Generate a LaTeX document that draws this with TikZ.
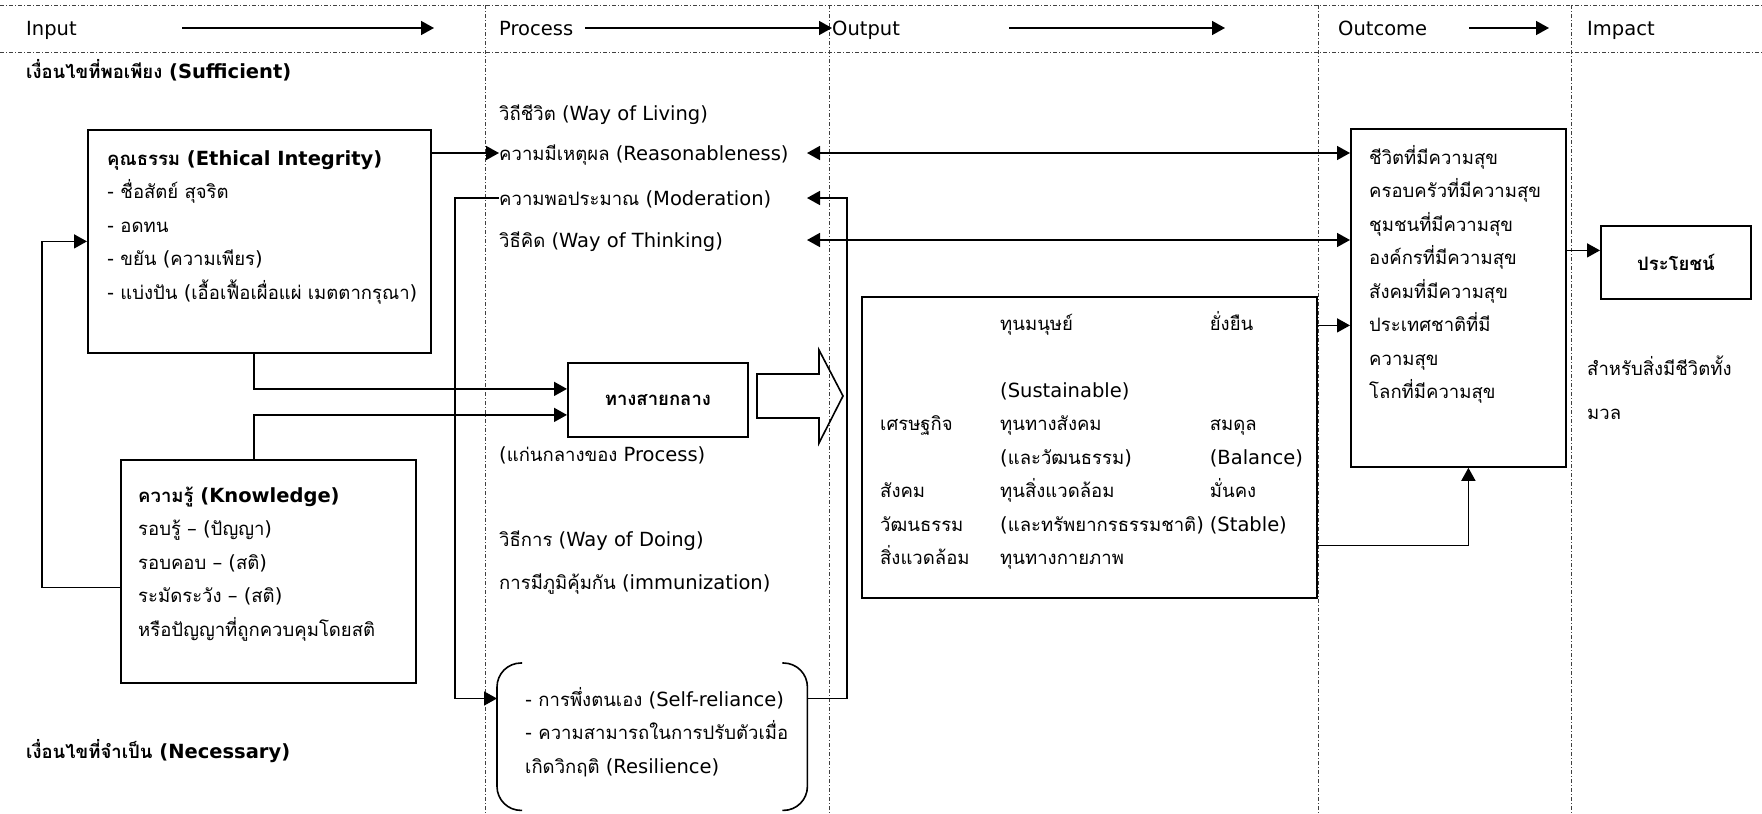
\documentclass[tikz,border=0pt]{standalone}
\usepackage{fontspec}
\setmainfont{DejaVu Sans}
\newfontfamily\thaifont[Script=Thai, Scale=0.95]{Loma}
\XeTeXinterchartokenstate=1
\chardef\thaiclass=10
\newcount\thaicode
\thaicode="0E00
\loop
  \XeTeXcharclass\thaicode=\thaiclass
  \advance\thaicode by 1
\ifnum\thaicode<"0E80 \repeat
\XeTeXinterchartoks 0 \thaiclass = {\thaifont}
\XeTeXinterchartoks 4095 \thaiclass = {\thaifont}
\XeTeXinterchartoks \thaiclass 0 = {\rmfamily}
\XeTeXinterchartoks \thaiclass 4095 = {\rmfamily}
\usetikzlibrary{arrows.meta}
\begin{document}
\fontsize{19.5}{33.5}\selectfont
\begin{tikzpicture}[x=1pt,y=-1pt,
    grid/.style={black!75, line width=0.7pt, dash pattern=on 4pt off 2pt on 1pt off 2pt},
    boxx/.style={draw, line width=1.8pt, inner sep=0, anchor=north west},
    txt/.style={inner sep=0, anchor=north west, align=left},
    lbl/.style={inner sep=0, anchor=west, text height=14, text depth=0},
    arr/.style={line width=1.6pt, -{Triangle[length=13pt,width=14pt]}},
    arrs/.style={line width=1.6pt, {Triangle[length=13pt,width=14pt]}-{Triangle[length=13pt,width=14pt]}}]
    \useasboundingbox (0,0) rectangle (1762,814);
    \draw[grid] (0,5) -- (1762,5) (0,52) -- (1762,52);
    \foreach \x in {485,829,1318,1571} \draw[grid] (\x,5) -- (\x,814);
    \node[lbl] (hin) at (26,28) {Input};
    \node[lbl] (hproc) at (499,28) {Process};
    \node[lbl] (hout) at (832,28) {Output};
    \node[lbl] (hoc) at (1338,28) {Outcome};
    \node[lbl] (himp) at (1587,28) {Impact};
    \foreach \a/\b in {182/434,1009/1225,1469/1549} \draw[arr] (\a,28) -- (\b,28);
    \draw[arr] ([xshift=12]hproc.east) -- (hout.west);
    \node[lbl, font=\bfseries] (suff) at (26,71) {เงื่อนไขที่พอเพียง (Sufficient)};
    \node[lbl, font=\bfseries] (nec) at (26,751) {เงื่อนไขที่จำเป็น (Necessary)};
    \node[boxx, minimum width=343, minimum height=223] (ethic) at (87,129) {};
    \node[txt] (ethictxt) at ([shift={(20,12.5)}]ethic.north west) {\strut\textbf{คุณธรรม (Ethical Integrity)}\\- ชื่อสัตย์ สุจริต\\- อดทน\\- ขยัน (ความเพียร)\\- แบ่งปัน (เอื้อเฟื้อเผื่อแผ่ เมตตากรุณา)};
    \node[boxx, minimum width=295, minimum height=223] (know) at (120,459) {};
    \node[txt] (knowtxt) at ([shift={(18,19.5)}]know.north west) {\strut\textbf{ความรู้ (Knowledge)}\\รอบรู้ – (ปัญญา)\\รอบคอบ – (สติ)\\ระมัดระวัง – (สติ)\\หรือปัญญาที่ถูกควบคุมโดยสติ};
    \node[boxx, minimum width=180, minimum height=74, font=\bfseries] (middle) at (567,362) {ทางสายกลาง};
    \node[lbl] (living) at (499,113) {วิถีชีวิต (Way of Living)};
    \node[lbl] (reason) at (499,153) {ความมีเหตุผล (Reasonableness)};
    \node[lbl] (moder) at (499,198) {ความพอประมาณ (Moderation)};
    \node[lbl] (think) at (499,240) {วิธีคิด (Way of Thinking)};
    \node[lbl] (core) at (499,454) {(แก่นกลางของ Process)};
    \node[lbl] (doing) at (499,539) {วิธีการ (Way of Doing)};
    \node[lbl] (immun) at (499,582) {การมีภูมิคุ้มกัน (immunization)};
    \node[inner sep=0, minimum width=310, minimum height=147, anchor=north west] (brace) at (497,663) {};
    \draw[line width=1.6pt, rounded corners=24] ([xshift=25]brace.north west) -- (brace.north west) -- (brace.south west) -- ([xshift=25]brace.south west);
    \draw[line width=1.6pt, rounded corners=24] ([xshift=-25]brace.north east) -- (brace.north east) -- (brace.south east) -- ([xshift=-25]brace.south east);
    \node[txt] (selfrel) at (525,682.5) {\strut - การพึ่งตนเอง (Self-reliance)\\- ความสามารถในการปรับตัวเมื่อ\\เกิดวิกฤติ (Resilience)};
    \draw[line width=1.6pt] (757,374) -- (819,374) -- (819,350) -- (843,396) -- (819,443) -- (819,418) -- (757,418) -- cycle;
    \node[boxx, minimum width=455, minimum height=301] (output) at (861,296) {};
    \node[txt] (outtxt) at (880,306.5) {\begin{tabular}{@{}p{120pt}@{}l@{\hspace{6pt}}l@{}}
        & \makebox[185pt][l]{ทุนมนุษย์} & ยั่งยืน\\
        & & \\
        & (Sustainable) & \\
        เศรษฐกิจ & ทุนทางสังคม & สมดุล\\
        & (และวัฒนธรรม) & (Balance)\\
        สังคม & ทุนสิ่งแวดล้อม & มั่นคง\\
        วัฒนธรรม & (และทรัพยากรธรรมชาติ) & (Stable)\\
        สิ่งแวดล้อม & ทุนทางกายภาพ & \\
    \end{tabular}};
    \node[boxx, minimum width=215, minimum height=338] (outcome) at (1350,128) {};
    \node[txt] (octxt) at (1369,140.5) {\strut ชีวิตที่มีความสุข\\ครอบครัวที่มีความสุข\\ชุมชนที่มีความสุข\\องค์กรที่มีความสุข\\สังคมที่มีความสุข\\ประเทศชาติที่มี\\ความสุข\\โลกที่มีความสุข};
    \node[boxx, minimum width=150, minimum height=73, font=\bfseries] (benefit) at (1600,225) {ประโยชน์};
    \node[txt, font=\fontsize{19.5}{44}\selectfont] (whole) at (1587,344) {\strut สำหรับสิ่งมีชีวิตทั้ง\\มวล};
    \coordinate (lx) at (42,0);
    \coordinate (mx) at (254,0);
    \coordinate (ml) at (455,0);
    \coordinate (tx) at (807,0);
    \coordinate (mr) at (847,0);
    \coordinate (sr) at ([yshift=-16]selfrel.north west);
    \coordinate (ocin) at ([yshift=122]output.east);
    \coordinate (bnin) at ([yshift=12]benefit.west);
    \draw[arr] (ethic.east |- reason) -- (reason.west);
    \draw[arr] ([yshift=-16]know.west) -| (lx |- ethic.west) -- (ethic.west);
    \draw[arr] (ethic.south -| mx) |- ([yshift=11]middle.west);
    \draw[arr] (know.north -| mx) |- ([yshift=-15]middle.west);
    \draw[arr] (moder.west) -| (ml |- sr) -- (brace.west |- sr);
    \draw[arr] (brace.east |- sr) -| (mr |- moder) -- (tx |- moder);
    \draw[arrs] (tx |- reason) -- (outcome.west |- reason);
    \draw[arrs] (tx |- think) -- (outcome.west |- think);
    \draw[arr] (ocin) -- (outcome.west |- ocin);
    \draw[arr] ([yshift=-98]output.east) -| ([xshift=10]outcome.south);
    \draw[arr] (outcome.east |- bnin) -- (bnin);
\end{tikzpicture}
\end{document}
